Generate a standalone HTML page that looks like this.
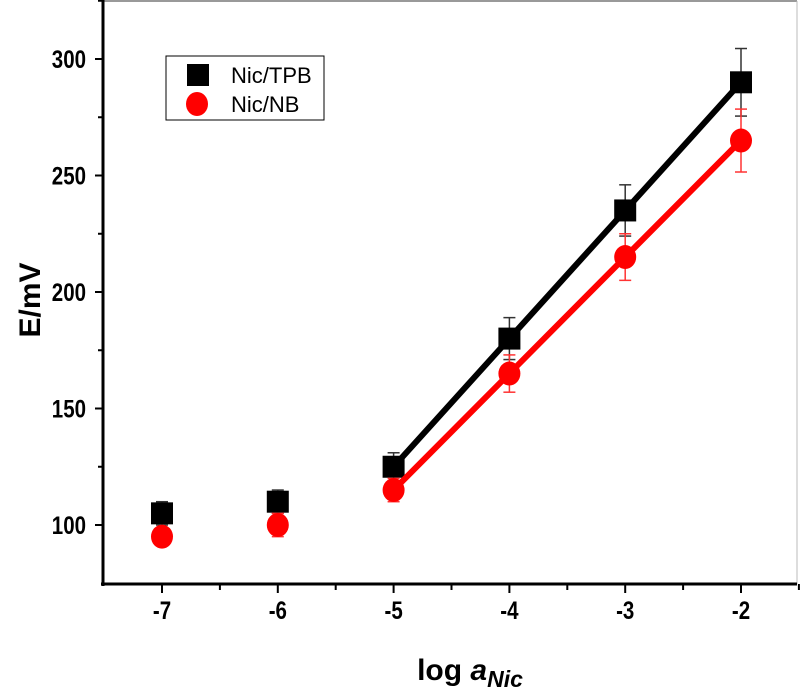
<!DOCTYPE html>
<html><head><meta charset="utf-8"><style>
body{margin:0;background:#fff;}
svg text{font-family:"Liberation Sans",sans-serif;}
</style></head><body>
<svg id="chart" width="800" height="692" xmlns="http://www.w3.org/2000/svg">
<rect x="0" y="0" width="800" height="692" fill="#fff"/>
<line x1="103" y1="1" x2="797" y2="1" stroke="#999" stroke-width="2"/>
<line x1="797" y1="1" x2="797" y2="584" stroke="#bbb" stroke-width="1"/>
<g id="axes"></g>
<g id="marks"></g>
<g>
<rect x="166" y="56" width="158" height="64" fill="#fff" stroke="#000" stroke-width="1"/>
<rect x="187" y="64" width="22" height="22" fill="#000"/>
<text x="231" y="83" font-size="22">Nic/TPB</text>
<ellipse cx="197" cy="104" rx="11" ry="12" fill="#f00"/>
<text x="231" y="112" font-size="22">Nic/NB</text>
</g>
<text transform="translate(40,300) rotate(-90)" text-anchor="middle" font-size="30" font-weight="bold">E/mV</text>
<text x="470" y="680" text-anchor="middle" font-size="30" font-weight="bold">log <tspan font-style="italic">a</tspan><tspan font-style="italic" font-size="23" dy="7">Nic</tspan></text>
</svg>
<script>
const xValues=[-7,-6,-5,-4,-3,-2];
const tpbValues=[105,110,125,180,235,290];
const tpbErrors=[5,5,6,9,11,14.5];
const nbValues=[95,100,115,165,215,265];
const nbErrors=[3,5,5,8,10,13.5];
const fitStart=2;
const xTicks=[-7,-6,-5,-4,-3,-2];
const yTicks=[100,150,200,250,300];
const NS="http://www.w3.org/2000/svg";
function X(v){return 162+(v+7)*115.8;}
function Y(v){return 525-(v-100)*2.33;}
function mk(tag,attrs,parent){const e=document.createElementNS(NS,tag);for(const k in attrs)e.setAttribute(k,attrs[k]);parent.appendChild(e);return e;}
const axes=document.getElementById('axes'),marks=document.getElementById('marks');
let e=mk('line',{x1:103,y1:0,x2:103,y2:586,stroke:'#000','stroke-width':3},axes);


e=mk('line',{x1:101,y1:584,x2:797,y2:584,stroke:'#000','stroke-width':3},axes);


yTicks.forEach(v=>{
 const t=mk('line',{x1:95,y1:Y(v),x2:103,y2:Y(v),stroke:'#000','stroke-width':2},axes);
 
 
 const m=mk('line',{x1:98,y1:Y(v+25),x2:103,y2:Y(v+25),stroke:'#000','stroke-width':2},axes);
 
 
 const l=mk('text',{transform:'translate(86,'+(Y(v)+9)+') scale(0.82,1)','text-anchor':'end','font-size':25,'font-weight':'bold'},axes);
 l.textContent=v;
 
 
});
xTicks.forEach(v=>{
 const t=mk('line',{x1:X(v),y1:584,x2:X(v),y2:593,stroke:'#000','stroke-width':2},axes);
 
 
 const m=mk('line',{x1:X(v+0.5),y1:584,x2:X(v+0.5),y2:590,stroke:'#000','stroke-width':2},axes);
 
 
 const l=mk('text',{transform:'translate('+X(v)+',619) scale(0.82,1)','text-anchor':'middle','font-size':25,'font-weight':'bold'},axes);
 l.textContent=v;
 
 
});
function series(vals,errs,color,name,square){
 const pts=xValues.slice(fitStart).map((x,i)=>X(x)+','+Y(vals[i+fitStart])).join(' ');
 const ln=mk('polyline',{points:pts,fill:'none',stroke:color,'stroke-width':6},marks);
 
 
 xValues.forEach((x,i)=>{
  const cx=X(x),top=Y(vals[i]+errs[i]),bot=Y(vals[i]-errs[i]);
  const g=mk('g',{stroke:color==='#000'?'#333':'#f33','stroke-width':1.5},marks);
  
  
  mk('line',{x1:cx,y1:top,x2:cx,y2:bot},g);
  mk('line',{x1:cx-6,y1:top,x2:cx+6,y2:top},g);
  mk('line',{x1:cx-6,y1:bot,x2:cx+6,y2:bot},g);
  let p;
  if(square)p=mk('rect',{x:cx-11,y:Y(vals[i])-11,width:22,height:22,fill:color},marks);
  else p=mk('ellipse',{cx:cx,cy:Y(vals[i]),rx:11,ry:12,fill:color},marks);
  
  
 });
}
series(tpbValues,tpbErrors,'#000','tpb',true);
series(nbValues,nbErrors,'#f00','nb',false);
</script>
</body></html>
